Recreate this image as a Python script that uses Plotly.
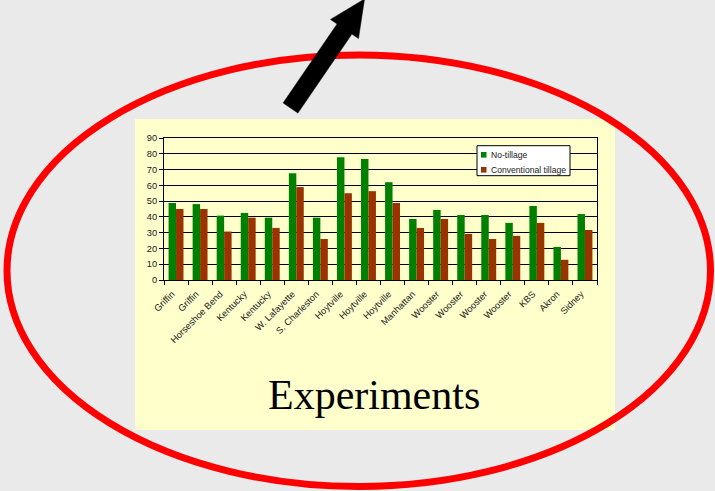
import plotly.graph_objects as go

# Sites (one bar pair per experiment)
sites = ["Griffin", "Griffin", "Horseshoe Bend", "Kentucky", "Kentucky",
         "W. Lafayette", "S. Charleston", "Hoytville", "Hoytville", "Hoytville",
         "Manhattan", "Wooster", "Wooster", "Wooster", "Wooster",
         "KBS", "Akron", "Sidney"]

no_tillage = [48.8, 48.1, 40.8, 42.5, 39.5, 67.7, 39.5, 77.8, 76.7, 62.0,
              38.7, 44.4, 41.2, 41.2, 36.2, 46.9, 21.0, 41.8]
conventional_tillage = [45.0, 45.0, 30.7, 39.5, 33.0, 58.9, 26.0, 55.0, 56.3, 48.8,
                        33.0, 38.7, 29.2, 26.0, 28.0, 36.2, 12.8, 31.7]

series_names = ["No-tillage", "Conventional tillage"]
series_colors = ["#008000", "#993300"]
y_ticks = [0, 10, 20, 30, 40, 50, 60, 70, 80, 90]

W, H = 715, 491
ML, MR, MT, MB = 164, 118, 138, 211
PW, PH = W - ML - MR, H - MT - MB


def px(x):
    return (x - ML) / PW


def py(y):
    return (H - MB - y) / PH


positions = list(range(len(sites)))

fig = go.Figure()
for name, color, vals in zip(series_names, series_colors,
                             [no_tillage, conventional_tillage]):
    fig.add_trace(go.Bar(x=positions, y=vals, name=name,
                         marker=dict(color=color, line=dict(width=0)),
                         showlegend=False))

tick_font = dict(family="Liberation Sans, Arial, sans-serif", size=9.3, color="#1a1a1a")

fig.update_layout(
    width=W, height=H,
    margin=dict(l=ML, r=MR, t=MT, b=MB, pad=0),
    paper_bgcolor="#eaeaea",
    plot_bgcolor="#ffffcc",
    barmode="group",
    bargap=0.38,
    bargroupgap=0,
    xaxis=dict(
        range=[-0.5, len(sites) - 0.5],
        tickmode="array", tickvals=positions, ticktext=sites,
        tickangle=-45, ticks="", ticklen=0,
        ticklabelstandoff=4, ticklabelshift=-4,
        tickfont=tick_font,
        showgrid=False, zeroline=False,
        showline=True, linecolor="#000", linewidth=1, mirror=True,
        minor=dict(tick0=-0.5, dtick=1, ticks="outside", ticklen=4,
                   tickcolor="#000", showgrid=False),
    ),
    yaxis=dict(
        range=[0, 90], tickmode="array", tickvals=y_ticks,
        ticks="outside", ticklen=4, tickcolor="#000",
        tickfont=tick_font,
        showgrid=True, gridcolor="#000", gridwidth=1, zeroline=False,
        showline=True, linecolor="#000", linewidth=1, mirror=True,
    ),
)

shapes = []
# pale yellow slide panel behind the chart
shapes.append(dict(type="rect", xref="paper", yref="paper", layer="below",
                   x0=px(135), x1=px(615), y0=py(430), y1=py(119),
                   fillcolor="#ffffcc", line=dict(width=0)))
# red ellipse around the panel
shapes.append(dict(type="circle", xref="paper", yref="paper", layer="below",
                   x0=px(7), x1=px(710.5), y0=py(486.5), y1=py(55),
                   line=dict(color="#ff0000", width=7)))

# black block arrow pointing up and to the right
arrow_pts = [(283.1, 102.9), (337.1, 23.9), (330.5, 19.4), (364.5, -1.0),
             (358.5, 38.6), (351.9, 34.1), (297.9, 113.1)]
path = "M " + " L ".join(f"{px(x):.5f},{py(y):.5f}" for x, y in arrow_pts) + " Z"
shapes.append(dict(type="path", xref="paper", yref="paper", layer="above",
                   path=path, fillcolor="#000", line=dict(color="#000", width=0.5)))

# legend box
shapes.append(dict(type="rect", xref="paper", yref="paper", layer="above",
                   x0=px(477), x1=px(570), y0=py(175.7), y1=py(145.7),
                   fillcolor="#ffffff", line=dict(color="#000", width=1)))
annotations = []
for i, (name, color) in enumerate(zip(series_names, series_colors)):
    cy = 154.8 + i * 15
    shapes.append(dict(type="rect", xref="paper", yref="paper", layer="above",
                       x0=px(481), x1=px(486.5), y0=py(cy + 2.8), y1=py(cy - 2.8),
                       fillcolor=color, line=dict(width=0)))
    annotations.append(dict(xref="paper", yref="paper", x=px(488.5), y=py(cy),
                            xanchor="left", yanchor="middle", showarrow=False,
                            text=name,
                            font=dict(family="Liberation Sans, Arial, sans-serif",
                                      size=8.6, color="#1a1a1a")))

annotations.append(dict(xref="paper", yref="paper", x=px(374), y=py(395),
                        xanchor="center", yanchor="middle", showarrow=False,
                        text="Experiments",
                        font=dict(family="Liberation Serif, Times New Roman, serif",
                                  size=42, color="#000")))

fig.update_layout(shapes=shapes, annotations=annotations)

fig.write_html("out.html")
